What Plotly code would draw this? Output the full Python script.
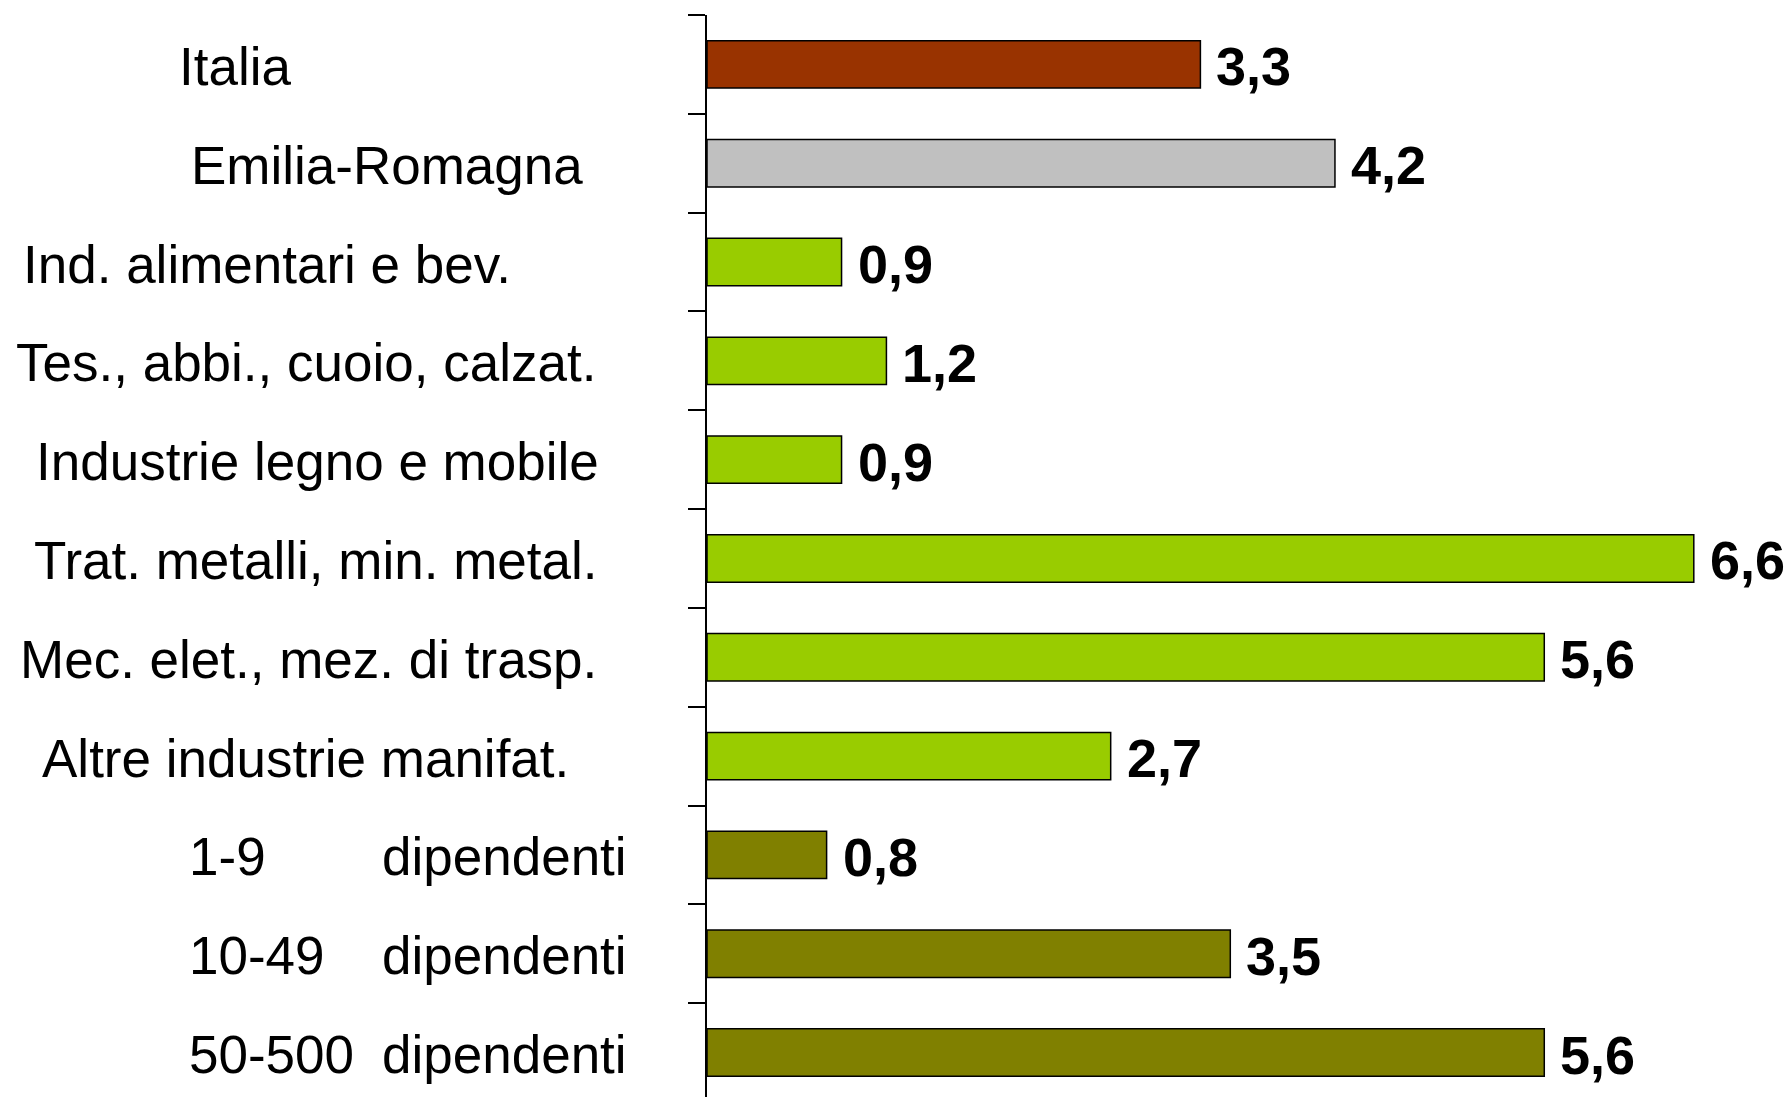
import plotly.graph_objects as go

# ---- data ----
categories = [
    "Italia",
    "Emilia-Romagna",
    "Ind. alimentari e bev.",
    "Tes., abbi., cuoio, calzat.",
    "Industrie legno e mobile",
    "Trat. metalli, min. metal.",
    "Mec. elet., mez. di trasp.",
    "Altre industrie manifat.",
    "1-9 dipendenti",
    "10-49 dipendenti",
    "50-500 dipendenti",
]
values = [3.3, 4.2, 0.9, 1.2, 0.9, 6.6, 5.6, 2.7, 0.8, 3.5, 5.6]
value_labels = ["3,3", "4,2", "0,9", "1,2", "0,9", "6,6", "5,6", "2,7", "0,8", "3,5", "5,6"]
size_classes = ["1-9", "10-49", "50-500"]
size_suffix = "dipendenti"

# ---- styles ----
BROWN, GREY, GREEN, OLIVE = "#993300", "#C0C0C0", "#99CC00", "#808000"
colors = [BROWN, GREY] + [GREEN] * 6 + [OLIVE] * 3
FONT = "Liberation Sans, Arial, sans-serif"
W, H = 1785, 1097
L, T = 707, 15
# left edge (px) of each category label
label_left = [179, 191, 23, 16, 36, 34, 20, 42]
class_left, suffix_left = 189, 382
FS_LABEL, FS_VALUE = 53, 54

fig = go.Figure(go.Bar(
    x=values, y=categories, orientation="h",
    marker=dict(color=colors, line=dict(color="black", width=1.5)),
    hoverinfo="skip",
))

ann = []
for cat, v, lab in zip(categories, values, value_labels):
    ann.append(dict(x=v, y=cat, xref="x", yref="y", text=lab, showarrow=False,
                    xanchor="left", yanchor="middle", xshift=14, yshift=-2,
                    font=dict(family=FONT, size=FS_VALUE, color="black", weight="bold")))
for cat, px in zip(categories[:8], label_left):
    ann.append(dict(x=0, y=cat, xref="paper", yref="y", text=cat, showarrow=False,
                    xanchor="left", yanchor="middle", xshift=px - L - 2, yshift=-2,
                    font=dict(family=FONT, size=FS_LABEL, color="black")))
for cat, cls in zip(categories[8:], size_classes):
    ann.append(dict(x=0, y=cat, xref="paper", yref="y", text=cls, showarrow=False,
                    xanchor="left", yanchor="middle", xshift=class_left - L - 2, yshift=-2,
                    font=dict(family=FONT, size=FS_LABEL, color="black")))
    ann.append(dict(x=0, y=cat, xref="paper", yref="y", text=size_suffix, showarrow=False,
                    xanchor="left", yanchor="middle", xshift=suffix_left - L - 2, yshift=-2,
                    font=dict(family=FONT, size=FS_LABEL, color="black")))

fig.update_layout(
    width=W, height=H,
    margin=dict(l=L, r=0, t=T, b=0, pad=0),
    paper_bgcolor="white", plot_bgcolor="white",
    bargap=0.52,
    showlegend=False,
    annotations=ann,
    xaxis=dict(range=[0, 7.21], visible=False, fixedrange=True),
    yaxis=dict(
        categoryorder="array", categoryarray=categories,
        range=[10.45, -0.5],
        showticklabels=False, showgrid=False, zeroline=False,
        showline=True, linecolor="black", linewidth=2,
        ticks="outside", tickson="boundaries", ticklen=17, tickwidth=2, tickcolor="black",
        fixedrange=True,
    ),
)

fig.write_html(
    "out.html",
    config={"displayModeBar": False},
    post_script="document.body.style.margin='0';document.body.style.overflow='hidden';",
)
